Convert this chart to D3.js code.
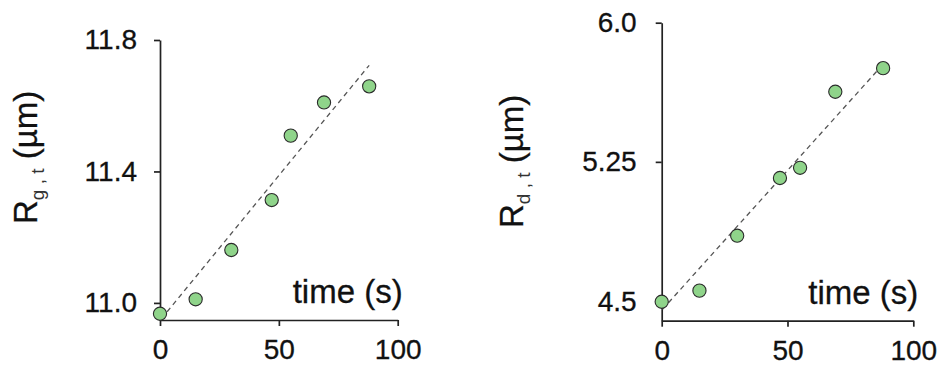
<!DOCTYPE html>
<html>
<head>
<meta charset="utf-8">
<script src="https://cdn.jsdelivr.net/npm/d3@7"></script>
<style>
  body { margin: 0; background: #fff; }
  svg { font-family: "Liberation Sans", Arial, sans-serif; }
</style>
</head>
<body>
<svg id="chart" width="943" height="374"></svg>
<script>
// data
var times = [0, 15, 30, 47, 55, 69, 88];
var rg = [10.967, 11.011, 11.161, 11.313, 11.509, 11.610, 11.659];
var rd = [4.496, 4.556, 4.852, 5.163, 5.218, 5.628, 5.755];
var rgFit = [[3, 10.973], [88, 11.723]];
var rdFit = [[0.3, 4.455], [88, 5.776]];
var xTicks = [0, 50, 100];
var rgTicks = [11.0, 11.4, 11.8];
var rdTicks = [4.5, 5.25, 6.0];
var rdTickLabels = ["4.5", "5.25", "6.0"];

var svg = d3.select("#chart");

function drawPanel(opt) {
    var x = d3.scaleLinear().domain([0, 100]).range([opt.x0, opt.x1]);
    var y = d3.scaleLinear().domain(opt.yDomain).range([opt.y0, opt.y1]);
    var g = svg.append("g");

    g.append("g")
        .attr("transform", "translate(" + opt.x0 + ",0)")
        .call(d3.axisLeft(y).tickValues(opt.ticks).tickSize(6).tickSizeOuter(0)
            .tickPadding(opt.tickPad).tickFormat(function(d, i) { return opt.labels[i]; }));
    g.append("g")
        .attr("transform", "translate(0," + opt.y0 + ")")
        .call(d3.axisBottom(x).tickValues(xTicks).tickSize(6).tickSizeOuter(0).tickPadding(13));

    g.selectAll(".domain").attr("stroke", "#222").attr("stroke-width", 1.7);
    g.selectAll(".tick line").attr("stroke", "#222").attr("stroke-width", 1.7);
    g.selectAll(".tick text").attr("font-size", 28).attr("fill", "#111")
        .attr("stroke", "#111").attr("stroke-width", 0.3)
        .attr("font-family", "Liberation Sans, Arial, sans-serif");

    // fit line
    var line = d3.line().x(function(d) { return x(d[0]); }).y(function(d) { return y(d[1]); });
    g.append("path")
        .attr("d", line(opt.fit))
        .attr("fill", "none")
        .attr("stroke", "#555")
        .attr("stroke-width", 1.3)
        .attr("stroke-dasharray", "5,4");

    g.selectAll("circle.pt").data(opt.vals).enter().append("circle")
        .attr("class", "pt")
        .attr("cx", function(d, i) { return x(times[i]); })
        .attr("cy", function(d) { return y(d); })
        .attr("r", 6.6)
        .attr("fill", "#8fd48a")
        .attr("stroke", "#2a2a2a")
        .attr("stroke-width", 1.1);

    g.append("text")
        .attr("x", opt.x1 + 5)
        .attr("y", opt.y0 - 17)
        .attr("text-anchor", "end")
        .attr("font-size", 33)
        .attr("fill", "#111")
        .attr("stroke", "#111").attr("stroke-width", 0.3)
        .text("time (s)");

    var lab = g.append("text")
        .attr("transform", "translate(" + opt.labX + "," + opt.labY + ") rotate(-90)")
        .attr("font-size", 33)
        .attr("fill", "#111")
        .attr("stroke", "#111").attr("stroke-width", 0.3);
    lab.append("tspan").text("R");
    lab.append("tspan").attr("font-size", 19).attr("dy", 7).attr("fill", "#333")
        .attr("stroke-width", 0).text(opt.sub);
    lab.append("tspan").attr("dy", -7).text(" (\u00b5m)");
}

drawPanel({
    x0: 160, x1: 397.7, y0: 320, y1: 40,
    yDomain: [10.948, 11.8], ticks: rgTicks,
    labels: ["11.0", "11.4", "11.8"], tickPad: 17,
    vals: rg, fit: rgFit, sub: "g , t", labX: 37, labY: 224
});

drawPanel({
    x0: 661.7, x1: 913.3, y0: 320.7, y1: 22.7,
    yDomain: [4.394, 6.0], ticks: rdTicks,
    labels: rdTickLabels, tickPad: 19,
    vals: rd, fit: rdFit, sub: "d , t", labX: 523, labY: 228
});
</script>
</body>
</html>
